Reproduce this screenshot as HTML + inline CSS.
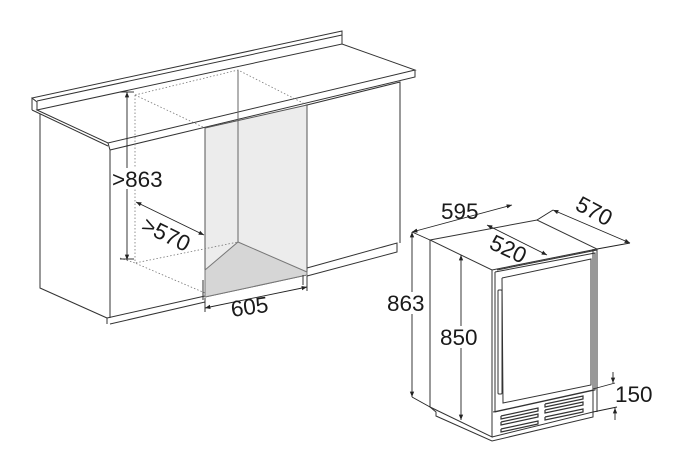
<!DOCTYPE html>
<html><head><meta charset="utf-8"><style>
html,body{margin:0;padding:0;background:#fff;}
svg{display:block;}
text{font-family:"Liberation Sans",Arial,sans-serif;fill:#1a1a1a;}
</style></head><body>
<svg width="700" height="467" viewBox="0 0 700 467" xmlns="http://www.w3.org/2000/svg">
<defs>
<marker id="a" viewBox="0 0 10 10" refX="10" refY="5" markerWidth="6" markerHeight="6" orient="auto-start-reverse"><path d="M0,1 L10,5 L0,9 z" fill="#222"/></marker>
</defs>
<g fill="none" stroke="#333" stroke-width="1">
<!-- countertop -->
<polygon points="37,110 342,44 415,70 108,143" fill="#fff"/>
<polyline points="108,143 110,150 415,77 415,70"/>
<polyline points="37,110 37,102 32,98 342,31 342,44"/>
<line x1="37" y1="101" x2="342" y2="35"/>
<line x1="32" y1="98" x2="32" y2="110"/>
<line x1="32" y1="110" x2="108" y2="146"/>
<!-- left cabinet -->
<polyline points="40,114 40,288 107,318 107,324"/>
<polyline points="110,150 110,318"/>
<polyline points="107,318 205,296"/>
<polyline points="110,324 205,302"/>
<!-- opening panels -->
<polygon points="205,128 307,105 307,275 205,297" fill="#ececec" stroke="#555"/>
<polygon points="205,270 238,242 307,272 307,275 205,297" fill="#d6d6d6" stroke="#777"/>
<line x1="238" y1="70" x2="238" y2="242" stroke="#666"/>
<!-- right cabinet -->
<polyline points="307,105 400,82 400,243"/>
<polyline points="307,268 397,243 397,252 307,276"/>
<line x1="303" y1="275" x2="303" y2="285"/>
<line x1="203" y1="280" x2="203" y2="300"/>
</g>
<!-- dotted hidden lines -->
<g fill="none" stroke="#777" stroke-width="0.8" stroke-dasharray="1.5,2">
<polyline points="135,95 238,70 307,105"/>
<polyline points="135,95 205,128"/>
<line x1="135" y1="95" x2="135" y2="263"/>
<polyline points="205,293 135,263 238,242"/>
<line x1="120" y1="258" x2="135" y2="263"/>
</g>
<!-- left dimensions -->
<g stroke="#222" stroke-width="0.9" fill="none">
<line x1="127" y1="92" x2="127" y2="260" marker-start="url(#a)" marker-end="url(#a)"/>
<line x1="120" y1="92" x2="134" y2="92"/>
<line x1="120" y1="259" x2="134" y2="259"/>
<line x1="136" y1="202" x2="204" y2="235" marker-start="url(#a)" marker-end="url(#a)"/>
<line x1="205" y1="308" x2="307" y2="287" marker-start="url(#a)" marker-end="url(#a)"/>
<line x1="205" y1="298" x2="205" y2="312"/>
<line x1="307" y1="276" x2="307" y2="291"/>
</g>
<rect x="112" y="168" width="52" height="21" fill="#fff"/>
<text x="112" y="187" font-size="22.5">&gt;863</text>
<text x="140" y="230" font-size="22.5" transform="rotate(26 140 230)">&gt;570</text>
<text x="232" y="317" font-size="22.5" transform="rotate(-8 232 317)">605</text>

<!-- fridge -->
<g fill="none" stroke="#333" stroke-width="1">
<polygon points="430,240 537,220 597,249 492,270" fill="#fff"/>
<polyline points="430,240 430,407 492,437 492,270"/>
<polyline points="492,437 593,412 593,249"/>
<polyline points="597,249 597,412"/>
<polyline points="495,272 595,253 595,390 495,412 495,272"/>
<polyline points="502,278 591,259 591,385 503,403 502,278"/>
<polyline points="497,270 597,250"/>
<line x1="493" y1="412" x2="593" y2="390"/>
<polyline points="430,407 436,412 436,416 492,441 593,417 593,412"/>
<rect x="498" y="290" width="4" height="104" rx="1"/>
<!-- vents -->
<g stroke-width="1.2">
<polyline points="501,416 538,408 538,411 501,419 501,416"/>
<polyline points="501,422 538,414 538,417 501,425 501,422"/>
<polyline points="501,429 538,421 538,424 501,432 501,429"/>
<polyline points="545,404 583,396 583,399 545,407 545,404"/>
<polyline points="545,410 583,402 583,405 545,413 545,410"/>
<polyline points="545,417 583,409 583,412 545,420 545,417"/>
</g>
</g>
<!-- fridge dimensions -->
<g stroke="#222" stroke-width="0.9" fill="none">
<line x1="412" y1="232" x2="412" y2="397" marker-start="url(#a)" marker-end="url(#a)"/>
<line x1="412" y1="232" x2="430" y2="240"/>
<line x1="412" y1="397" x2="430" y2="407"/>
<line x1="461" y1="255" x2="461" y2="420" marker-start="url(#a)" marker-end="url(#a)"/>
<line x1="412" y1="232" x2="512" y2="205" marker-start="url(#a)" marker-end="url(#a)"/>
<line x1="487" y1="225" x2="547" y2="255" marker-start="url(#a)" marker-end="url(#a)"/>
<line x1="553" y1="210" x2="630" y2="243" marker-start="url(#a)" marker-end="url(#a)"/>
<line x1="537" y1="220" x2="553" y2="210"/>
<line x1="597" y1="249" x2="630" y2="243"/>
<line x1="593" y1="389" x2="615" y2="383"/>
<line x1="593" y1="412" x2="617" y2="407"/>
<line x1="613" y1="372" x2="613" y2="383" marker-end="url(#a)"/>
<line x1="615" y1="420" x2="615" y2="408" marker-end="url(#a)"/>
</g>
<rect x="387" y="292" width="40" height="22" fill="#fff"/>
<text x="387" y="311" font-size="22.5">863</text>
<rect x="440" y="326" width="42" height="22" fill="#fff"/>
<text x="440" y="345" font-size="22.5">850</text>
<text x="441" y="219" font-size="22.5">595</text>
<text x="488" y="248" font-size="22.5" transform="rotate(25 488 248)">520</text>
<text x="574" y="209" font-size="22.5" transform="rotate(28 574 209)">570</text>
<text x="615" y="402" font-size="22.5">150</text>
</svg>
</body></html>
